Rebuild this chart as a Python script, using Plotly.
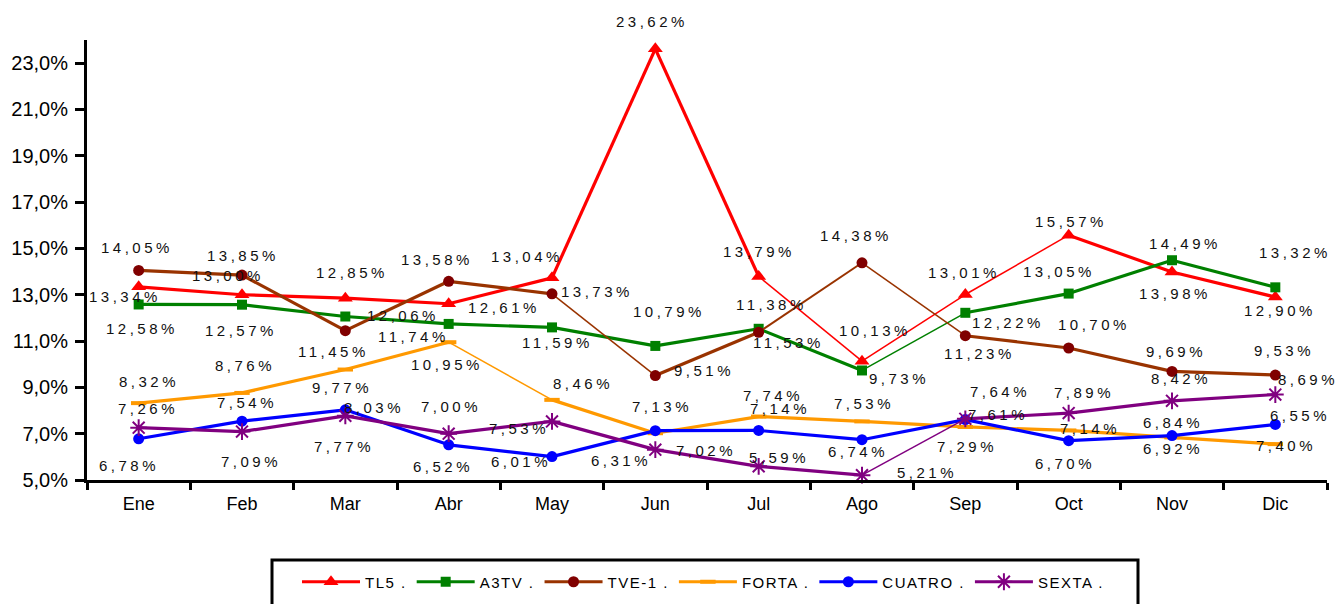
import plotly.graph_objects as go

# ---------------- data ----------------
months = ["Ene", "Feb", "Mar", "Abr", "May", "Jun", "Jul", "Ago", "Sep", "Oct", "Nov", "Dic"]
series_names = ["TL5 .", "A3TV .", "TVE-1 .", "FORTA .", "CUATRO .", "SEXTA ."]
tl5 = [13.34, 13.00, 12.85, 12.61, 13.73, 23.62, 13.79, 10.13, 13.01, 15.57, 13.98, 12.90]
a3tv = [12.58, 12.57, 12.06, 11.74, 11.59, 10.79, 11.53, 9.73, 12.22, 13.05, 14.49, 13.32]
tve1 = [14.05, 13.85, 11.45, 13.58, 13.04, 9.51, 11.38, 14.38, 11.23, 10.70, 9.69, 9.53]
forta = [8.32, 8.76, 9.77, 10.95, 8.46, 7.02, 7.74, 7.53, 7.29, 7.14, 6.84, 6.55]
cuatro = [6.78, 7.54, 8.03, 6.52, 6.01, 7.13, 7.14, 6.74, 7.61, 6.70, 6.92, 7.40]
sexta = [7.26, 7.09, 7.77, 7.00, 7.53, 6.31, 5.59, 5.21, 7.64, 7.89, 8.42, 8.69]
y_ticks = [5, 7, 9, 11, 13, 15, 17, 19, 21, 23]
y_tick_labels = ["5,0%", "7,0%", "9,0%", "11,0%", "13,0%", "15,0%", "17,0%", "19,0%", "21,0%", "23,0%"]

# ---------------- styles ----------------
FONT = "Liberation Sans, Arial, sans-serif"
styles = [
    dict(color="#FF0000", marker=dict(symbol="triangle-up", size=13, color="#FF0000")),
    dict(color="#008000", marker=dict(symbol="square", size=10, color="#008000")),
    dict(color="#993300", marker=dict(symbol="circle", size=11, color="#800000")),
    dict(color="#FF9900", marker=dict(symbol="line-ew", size=11, color="#FF9900",
                                       line=dict(width=4, color="#FF9900"))),
    dict(color="#0000FF", marker=dict(symbol="circle", size=11, color="#0000FF")),
    dict(color="#800080", marker=dict(symbol="asterisk-open", size=14, color="#800080",
                                       line=dict(width=2, color="#800080"))),
]
T, t = 3.2, 1.5
seg_widths = [
    [T, T, T, T, T, T, t, t, t, T, T],
    [T, T, T, T, T, T, T, t, T, T, T],
    [T, T, T, T, t, T, 2, t, T, T, T],
    [T, T, T, t, T, T, T, T, T, T, T],
    [T] * 11,
    [T, T, T, T, T, T, T, t, T, T, T],
]
# label offsets in screen pixels (dx right, dy down)
label_dx = [
    [-14, -14, 7, 55, 45, -3, 0, 13, -1, 2, 3, 5],
    [3, -1, 58, -35, 5, 14, 30, 37, 43, -10, 13, 20],
    [-2, 1, -12, -12, -25, 49, 13, -6, 14, 25, 4, 9],
    [10, 3, -3, -2, 31, 51, 14, 2, 2, 21, 1, 25],
    [-10, 5, 29, -6, -31, 7, 21, -4, 33, -4, 1, 11],
    [9, 9, -1, 2, -33, -34, 20, 65, 35, 15, 9, 33],
]
label_dy = [
    [10, -19, -26, 4, 14, -27, -25, -31, -22, -14, 21, 13],
    [24, 26, -1, 13, 15, -34, 14, 8, 10, -22, -17, -35],
    [-23, -20, 21, -22, -37, -5, -28, -27, 18, -24, -20, -25],
    [-22, -27, 18, 22, -16, 17, -21, -18, 20, -2, -15, -29],
    [27, -19, -2, 22, 5, -24, -22, 12, -5, 23, 13, 21],
    [-19, 30, 31, -27, 7, 11, -9, -3, -27, -21, -22, -15],
]

all_series = [tl5, a3tv, tve1, forta, cuatro, sexta]

fig = go.Figure()
annotations = []
for name, vals, st, widths, dxs, dys in zip(series_names, all_series, styles, seg_widths, label_dx, label_dy):
    for i in range(len(months) - 1):
        fig.add_trace(go.Scatter(
            x=[months[i], months[i + 1]], y=[vals[i], vals[i + 1]], mode="lines",
            line=dict(color=st["color"], width=widths[i]), showlegend=False, hoverinfo="skip",
            cliponaxis=False))
    fig.add_trace(go.Scatter(x=months, y=vals, mode="markers", marker=st["marker"],
                             showlegend=False, cliponaxis=False, name=name))
    fig.add_trace(go.Scatter(x=[None], y=[None], mode="lines+markers",
                             name=f'<span style="letter-spacing:1.5px">{name}</span>',
                             line=dict(color=st["color"], width=3), marker=st["marker"]))
    for m, v, dx, dy in zip(months, vals, dxs, dys):
        txt = f"{v:.2f}".replace(".", ",") + "%"
        annotations.append(dict(
            x=m, y=v, xref="x", yref="y", showarrow=False, xshift=dx, yshift=-dy,
            text=f'<span style="letter-spacing:3.5px">{txt}</span>',
            font=dict(family=FONT, size=15, color="#111111")))

# page has an 8px body margin: figure coords = screen coords - 8
OFF = 8
PW, PH, L, TOP = 1240, 440, 87, 40   # plot area in screen pixels
FW, FH = 1343 - OFF, 604 - OFF
def px(x):
    return (x - L) / PW
def py(y):
    return (TOP + PH - y) / PH

fig.update_layout(
    width=FW, height=FH,
    margin=dict(l=L - OFF, r=FW - (L - OFF) - PW, t=TOP - OFF, b=FH - (TOP - OFF) - PH,
                autoexpand=False),
    paper_bgcolor="white", plot_bgcolor="white",
    font=dict(family=FONT, color="black"),
    showlegend=True,
    legend=dict(orientation="h", x=px(297), xanchor="left", y=py(582), yanchor="middle",
                font=dict(family=FONT, size=15, color="black"),
                itemwidth=58,
                bgcolor="rgba(0,0,0,0)", borderwidth=0),
    xaxis=dict(type="category", categoryorder="array", categoryarray=months,
               range=[-0.5, 11.5], showline=True, linecolor="black", linewidth=3,
               ticks="outside", tickson="boundaries", ticklen=7, tickwidth=3, tickcolor="black",
               showgrid=False, zeroline=False, automargin=False, ticklabelstandoff=5,
               tickfont=dict(family=FONT, size=18, color="black")),
    yaxis=dict(range=[5, 24], tickvals=y_ticks, ticktext=y_tick_labels,
               showline=True, linecolor="black", linewidth=3,
               ticks="outside", ticklen=9, tickwidth=3, tickcolor="black",
               showgrid=False, zeroline=False, automargin=False, ticklabelstandoff=3,
               tickfont=dict(family=FONT, size=20, color="black")),
    annotations=annotations,
    shapes=[dict(type="rect", xref="paper", yref="paper",
                 x0=px(272), x1=px(1138), y0=py(560), y1=py(650),
                 line=dict(color="black", width=3), fillcolor="rgba(0,0,0,0)")],
)

fig.write_html("out.html")
